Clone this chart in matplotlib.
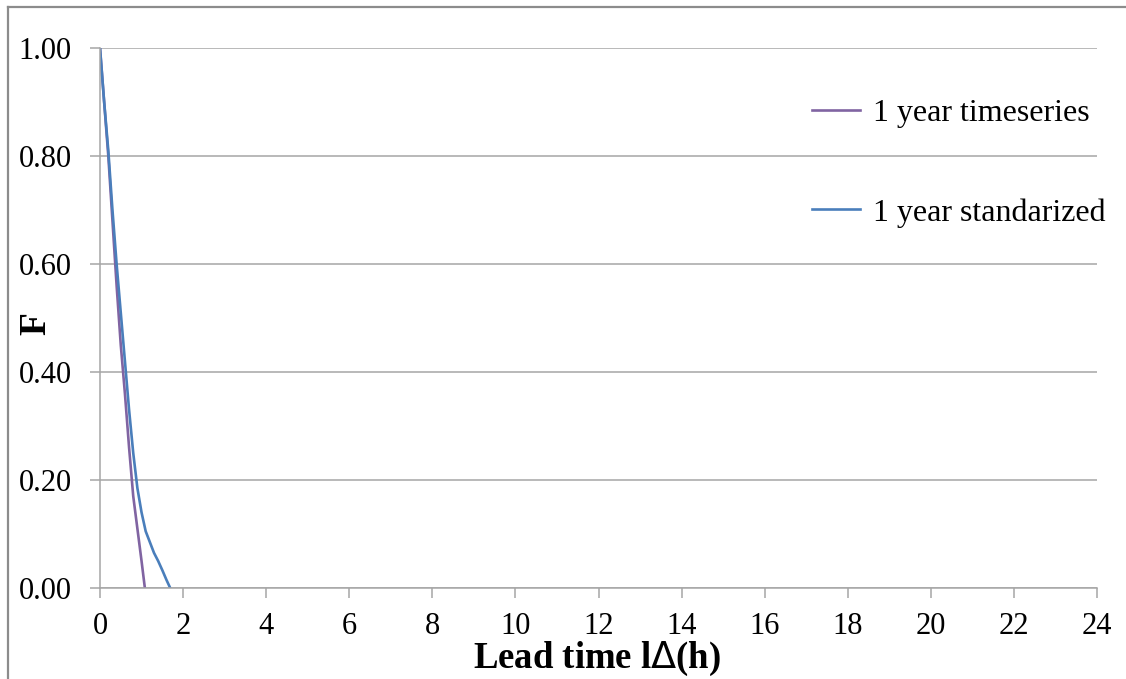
import numpy as np
import matplotlib
matplotlib.use('Agg')
import matplotlib.pyplot as plt
from matplotlib.lines import Line2D

plt.rcParams['font.family'] = ['Liberation Serif', 'DejaVu Serif']

# --- values
lead_ts = [0.0, 0.1, 0.2, 0.3, 0.4, 0.5, 0.6, 0.7, 0.8, 0.9, 1.0, 1.08]
F_ts = [1.0, 0.90, 0.80, 0.68, 0.56, 0.45, 0.36, 0.26, 0.17, 0.11, 0.05, 0.0]

lead_std = [0.0, 0.1, 0.2, 0.3, 0.4, 0.5, 0.6, 0.7, 0.8, 0.9, 1.0, 1.1, 1.2,
            1.3, 1.4, 1.5, 1.6, 1.69]
F_std = [1.0, 0.90, 0.81, 0.70, 0.60, 0.51, 0.42, 0.33, 0.25, 0.185, 0.14,
         0.105, 0.085, 0.065, 0.05, 0.033, 0.015, 0.0]

labels = ['1 year timeseries', '1 year standarized']
colors = ['#8064A2', '#4A7EBB']

xticks = np.arange(0, 25, 2)
yticks = [0.0, 0.2, 0.4, 0.6, 0.8, 1.0]

W, H = 1126, 679
fig = plt.figure(figsize=(W / 100, H / 100), dpi=100)
ax = fig.add_axes([100 / W, 1 - 588 / H, (1097 - 100) / W, (588 - 48) / H])

grid_c = '#a6a6a6'
ax.plot(lead_ts, F_ts, c=colors[0], lw=1.9, label=labels[0])
ax.plot(lead_std, F_std, c=colors[1], lw=1.9, label=labels[1])

ax.set_xlim(0, 24)
ax.set_ylim(0, 1)
ax.set_xticks(xticks)
ax.set_yticks(yticks)
ax.set_yticklabels([f'{v:.2f}' for v in yticks])

ax.yaxis.grid(True, color=grid_c, lw=1.1)
ax.set_axisbelow(True)
for s in ['top', 'right']:
    ax.spines[s].set_visible(False)
for s in ['left', 'bottom']:
    ax.spines[s].set_color(grid_c)
    ax.spines[s].set_linewidth(1.1)

ax.tick_params(axis='x', direction='out', length=7.5, width=1.1, color=grid_c,
               labelsize=22, pad=10)
ax.tick_params(axis='y', direction='out', length=7.5, width=1.1, color=grid_c,
               labelsize=22, pad=13)

ax.set_xlabel(r'Lead time l$\Delta$(h)', fontsize=26.5, fontweight='bold', va='center')
ax.xaxis.set_label_coords(0.4985, (588 - 659) / 540)
ax.set_ylabel('F', fontsize=27, fontweight='bold', va='center')
ax.yaxis.set_label_coords((36 - 100) / 997, 0.49)

leg = fig.legend(loc='center left', bbox_to_anchor=(812 / W, 1 - 163 / H),
                 frameon=False, fontsize=23, handlelength=1.5, handletextpad=0.4,
                 labelspacing=2.2, borderpad=0, borderaxespad=0)

# --- outer chart border (left and top only visible)
fig.add_artist(Line2D([8 / W, 8 / W], [0, 1 - 7 / H], color='#8c8c8c', lw=1.6))
fig.add_artist(Line2D([8 / W, 1], [1 - 7 / H, 1 - 7 / H], color='#8c8c8c', lw=1.6))

fig.savefig('out.png', dpi=100)
